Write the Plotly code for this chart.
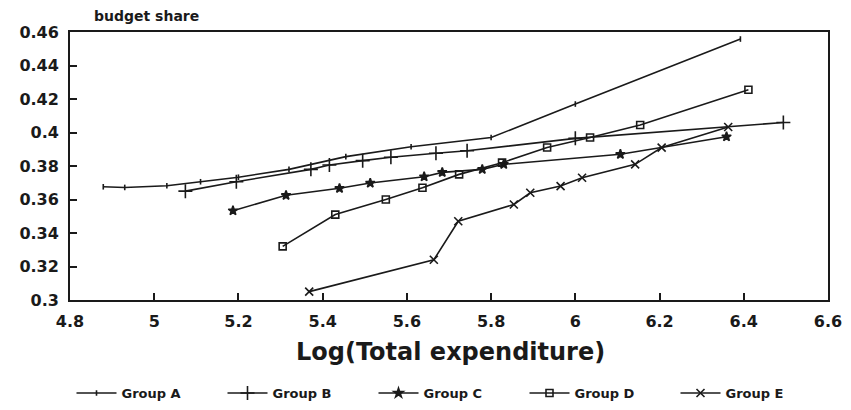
import plotly.graph_objects as go

# Log(total expenditure) and budget share for each household group
group_a_x = [4.879, 4.93, 5.03, 5.11, 5.2, 5.32, 5.455, 5.61, 5.8, 6.0, 6.392]
group_a_y = [0.3676, 0.3672, 0.3682, 0.3706, 0.3733, 0.378, 0.3856, 0.3915, 0.397, 0.417, 0.4558]

group_b_x = [5.074, 5.195, 5.372, 5.416, 5.495, 5.562, 5.669, 5.743, 6.0, 6.494]
group_b_y = [0.365, 0.3706, 0.378, 0.3806, 0.3832, 0.3852, 0.3876, 0.3891, 0.3965, 0.406]

group_c_x = [5.187, 5.313, 5.44, 5.513, 5.641, 5.684, 5.779, 5.83, 6.107, 6.359]
group_c_y = [0.3533, 0.3625, 0.3667, 0.3698, 0.3736, 0.3762, 0.378, 0.381, 0.387, 0.3975]

group_d_x = [5.305, 5.43, 5.55, 5.637, 5.724, 5.826, 5.933, 6.035, 6.154, 6.411]
group_d_y = [0.332, 0.351, 0.360, 0.367, 0.375, 0.382, 0.391, 0.397, 0.4045, 0.4255]

group_e_x = [5.368, 5.664, 5.722, 5.854, 5.893, 5.965, 6.016, 6.142, 6.205, 6.363]
group_e_y = [0.305, 0.324, 0.347, 0.357, 0.364, 0.368, 0.373, 0.381, 0.391, 0.4033]

series_names = ["Group A", "Group B", "Group C", "Group D", "Group E"]

x_ticks = [4.8, 5.0, 5.2, 5.4, 5.6, 5.8, 6.0, 6.2, 6.4, 6.6]
x_tick_text = ["4.8", "5", "5.2", "5.4", "5.6", "5.8", "6", "6.2", "6.4", "6.6"]
y_ticks = [0.30, 0.32, 0.34, 0.36, 0.38, 0.40, 0.42, 0.44, 0.46]
y_tick_text = ["0.3", "0.32", "0.34", "0.36", "0.38", "0.4", "0.42", "0.44", "0.46"]

INK = "#1a1a1a"
FONT = "DejaVu Sans"

styles = [
    dict(symbol="line-ns", size=4),
    dict(symbol="cross-thin", size=10),
    dict(symbol="star", size=7),
    dict(symbol="square-open", size=7),
    dict(symbol="x-thin", size=8),
]

fig = go.Figure()
data = [(group_a_x, group_a_y), (group_b_x, group_b_y), (group_c_x, group_c_y),
        (group_d_x, group_d_y), (group_e_x, group_e_y)]
for (xs, ys), name, st in zip(data, series_names, styles):
    fig.add_trace(go.Scatter(
        x=xs, y=ys, name=name, mode="lines+markers",
        line=dict(color=INK, width=1.6),
        marker=dict(symbol=st["symbol"], size=st["size"], color=INK,
                    line=dict(color=INK, width=1.6)),
    ))

fig.update_layout(
    width=851, height=410,
    margin=dict(l=70, r=23, t=32, b=110, autoexpand=False),
    paper_bgcolor="white", plot_bgcolor="white",
    font=dict(family=FONT, color=INK),
    showlegend=True,
    legend=dict(
        orientation="h", x=0.5, xanchor="center", y=-0.347, yanchor="middle",
        font=dict(family=FONT, size=13, weight="bold", color=INK),
        itemwidth=40, entrywidth=96, entrywidthmode="pixels",
        bgcolor="rgba(0,0,0,0)",
    ),
    xaxis=dict(
        range=[4.8, 6.6], tickvals=x_ticks, ticktext=x_tick_text,
        showgrid=False, zeroline=False,
        showline=True, mirror=True, linecolor=INK, linewidth=1.6,
        ticks="inside", ticklen=7, tickwidth=1.5, tickcolor=INK,
        tickfont=dict(family=FONT, size=16, weight="bold", color=INK),
        ticklabelstandoff=6,
    ),
    yaxis=dict(
        range=[0.30, 0.46], tickvals=y_ticks, ticktext=y_tick_text,
        showgrid=False, zeroline=False,
        showline=True, mirror=True, linecolor=INK, linewidth=1.8,
        ticks="inside", ticklen=7, tickwidth=1.5, tickcolor=INK,
        tickfont=dict(family=FONT, size=16, weight="bold", color=INK),
        ticklabelstandoff=6,
    ),
    annotations=[
        dict(text="budget share", xref="paper", yref="paper",
             x=(92 - 70) / 758, y=1 + (32 - 16) / 268,
             xanchor="left", yanchor="middle", showarrow=False,
             font=dict(family=FONT, size=14, weight="bold", color=INK)),
        dict(text="Log(Total expenditure)", xref="paper", yref="paper",
             x=(450 - 70) / 758, y=(300 - 352) / 268,
             xanchor="center", yanchor="middle", showarrow=False,
             font=dict(family=FONT, size=24, weight="bold", color=INK)),
    ],
)

fig.write_html("out.html")
